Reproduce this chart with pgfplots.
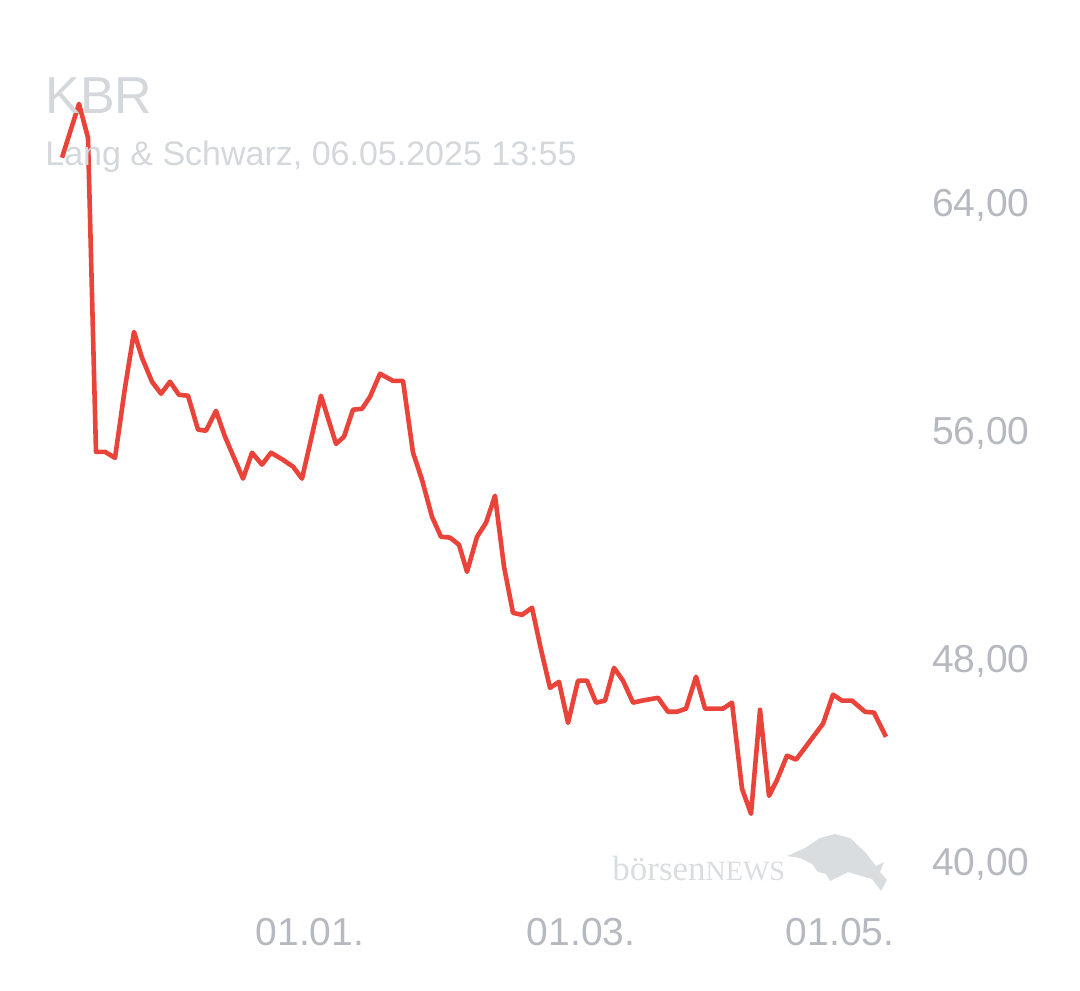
\documentclass[border=0pt]{standalone}
\usepackage{pgfplots}
\pgfplotsset{compat=1.18}
\usepackage{fontspec}
\setmainfont{Liberation Sans}
\newfontfamily\wmfont{Liberation Serif}
\definecolor{kbrred}{HTML}{E9433A}
\definecolor{ticklab}{HTML}{B6BAC0}
\definecolor{titlegray}{HTML}{D4D7DB}
\definecolor{wmgray}{HTML}{DADDE0}
\begin{document}
\begin{tikzpicture}
\useasboundingbox (-20pt,-44.5pt) rectangle (520pt,450.5pt);
% watermark
\node[anchor=base west, inner sep=0pt, text=wmgray] at (286pt,10.5pt)
  {\wmfont\fontsize{17.5pt}{20pt}\selectfont börsen\fontsize{14pt}{16pt}\selectfont NEWS};
\begin{scope}[x=0.5pt, y=-0.5pt, shift={(-20pt,450.5pt)}]
\fill[wmgray] (787,856) -- (805,848) -- (820,838) -- (835,834) -- (850,838) -- (865,852)
  -- (876,866) -- (884,862) -- (880,872) -- (887,880) -- (881,891) -- (872,879)
  -- (858,875) -- (848,872) -- (838,877) -- (830,881) -- (826,874) -- (818,872)
  -- (812,864) -- (800,858) -- cycle;
\end{scope}
\begin{axis}[
  at={(0,0)}, anchor=south west,
  scale only axis, width=435pt, height=427.5pt,
  xmin=40, xmax=910, ymin=39.5, ymax=69.5,
  axis line style={draw=none},
  major tick length=0pt,
  /pgf/number format/assume math mode=true,
  xtick={310,581,840},
  xticklabels={01.01.,01.03.,01.05.},
  xticklabel style={anchor=center, yshift=-15.5pt, inner sep=0pt, text=ticklab,
    font=\fontsize{19.5pt}{22pt}\selectfont},
  ytick={40.88,48,56,64},
  yticklabels={{40,00},{48,00},{56,00},{64,00}},
  yticklabel pos=right,
  yticklabel style={anchor=east, xshift=60pt, yshift=-1.5pt, inner sep=0pt, text=ticklab,
    font=\fontsize{19.5pt}{22pt}\selectfont},
]
\addplot[kbrred, line width=2.3pt, line join=round, mark=none] coordinates {
(62,65.58) (79,67.47) (88,66.28) (96,55.26) (105,55.26) (115,55.05)
(125,57.51) (134,59.47) (142,58.56) (152,57.72) (161,57.30) (170,57.72)
(179,57.26) (188,57.23) (198,56.04) (206,56.00) (216,56.70) (225,55.79)
(243,54.32) (252,55.23) (262,54.81) (271,55.23) (283,54.98) (293,54.74)
(302,54.32) (321,57.23) (336,55.54) (344,55.79) (353,56.74) (362,56.77)
(370,57.19) (380,58.00) (393,57.75) (403,57.75) (413,55.23) (422,54.28)
(432,52.98) (441,52.28) (450,52.25) (459,52.00) (467,51.05) (477,52.28)
(486,52.77) (495,53.72) (504,51.23) (513,49.61) (522,49.54) (532,49.79)
(541,48.32) (550,46.98) (559,47.19) (568,45.75) (578,47.23) (587,47.23)
(596,46.46) (605,46.53) (614,47.68) (623,47.23) (633,46.46) (642,46.53)
(658,46.63) (668,46.14) (677,46.14) (686,46.25) (696,47.37) (705,46.25)
(723,46.25) (732,46.46) (742,43.44) (751,42.56) (760,46.21) (769,43.19)
(777,43.75) (787,44.60) (796,44.46) (805,44.88) (814,45.30) (823,45.72)
(833,46.74) (842,46.53) (852,46.53) (865,46.14) (874,46.11) (886,45.26)
};
\end{axis}
\node[anchor=base west, inner sep=0pt, text=titlegray] at (2.5pt,393.5pt)
  {\fontsize{26pt}{30pt}\selectfont KBR};
\node[anchor=base west, inner sep=0pt, text=titlegray] at (2.5pt,367.5pt)
  {\fontsize{17pt}{20pt}\selectfont Lang \& Schwarz, 06.05.2025 13:55};
\end{tikzpicture}
\end{document}
